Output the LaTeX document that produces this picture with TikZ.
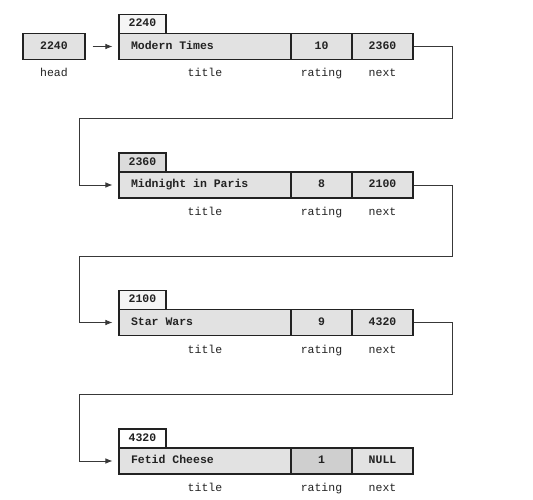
\documentclass[tikz,border=0pt]{standalone}
\usepackage{fontspec}
\setmonofont{Liberation Mono}
\usetikzlibrary{arrows.meta}
\definecolor{ink}{HTML}{222222}
\definecolor{cellfill}{HTML}{E2E2E2}
\newcommand{\titletext}[1]{\makebox[148pt][l]{#1}}
\tikzset{
  box/.style={draw=ink, line width=1.1pt, fill=cellfill, minimum height=26pt,
              inner sep=0pt, text height=8pt, text depth=2.5pt, text=ink,
              font=\ttfamily\bfseries\fontsize{11.5}{13}\selectfont},
  titlecell/.style={box, minimum width=172pt},
  numcell/.style={box, minimum width=61pt},
  tabcell/.style={box, minimum width=47pt, minimum height=19pt},
  fieldlabel/.style={text=ink, font=\ttfamily\fontsize{11.5}{13}\selectfont, inner sep=0pt, anchor=base},
  link/.style={draw=ink!90, line width=0.7pt, -{Latex[length=7pt,width=5.5pt]}},
}
\begin{document}
\begin{tikzpicture}[x=1pt,y=-1pt]
\useasboundingbox (0,0) rectangle (533,500);

% head
\node[numcell, minimum width=62pt] (hd) at (54,46.5) {2240};
\node[fieldlabel] (lhd) at (54,77) {head};

% row 1
\node[titlecell] (t1) at (205,46.5) {\titletext{Modern Times}};
\node[numcell] (r1) at (321.5,46.5) {10};
\node[numcell] (n1) at (382.5,46.5) {2360};
\node[tabcell, fill=gray!8] (a1) at (142.5,24) {2240};
\node[fieldlabel] (lt1) at (205,77) {title};
\node[fieldlabel] (lr1) at (321.5,77) {rating};
\node[fieldlabel] (ln1) at (382.5,77) {next};

% row 2
\node[titlecell] (t2) at (205,185) {\titletext{Midnight in Paris}};
\node[numcell] (r2) at (321.5,185) {8};
\node[numcell] (n2) at (382.5,185) {2100};
\node[tabcell, fill=gray!28] (a2) at (142.5,162.5) {2360};
\node[fieldlabel] (lt2) at (205,215.5) {title};
\node[fieldlabel] (lr2) at (321.5,215.5) {rating};
\node[fieldlabel] (ln2) at (382.5,215.5) {next};

% row 3
\node[titlecell] (t3) at (205,322.5) {\titletext{Star Wars}};
\node[numcell] (r3) at (321.5,322.5) {9};
\node[numcell] (n3) at (382.5,322.5) {4320};
\node[tabcell, fill=gray!8] (a3) at (142.5,300) {2100};
\node[fieldlabel] (lt3) at (205,353) {title};
\node[fieldlabel] (lr3) at (321.5,353) {rating};
\node[fieldlabel] (ln3) at (382.5,353) {next};

% row 4
\node[titlecell] (t4) at (205,461) {\titletext{Fetid Cheese}};
\node[numcell, fill=gray!38] (r4) at (321.5,461) {1};
\node[numcell] (n4) at (382.5,461) {NULL};
\node[tabcell, fill=white] (a4) at (142.5,438.5) {4320};
\node[fieldlabel] (lt4) at (205,491) {title};
\node[fieldlabel] (lr4) at (321.5,491) {rating};
\node[fieldlabel] (ln4) at (382.5,491) {next};

% turning points
\coordinate (c1r) at (452,118);
\coordinate (c1l) at (79,118);
\coordinate (c2r) at (452,256);
\coordinate (c2l) at (79,256);
\coordinate (c3r) at (452,394);
\coordinate (c3l) at (79,394);

% connectors
\draw[link] ([xshift=7pt]hd.east) -- ([xshift=-6pt]t1.west);
\draw[link] (n1.east) -| (c1r) -- (c1l) |- ([xshift=-6pt]t2.west);
\draw[link] (n2.east) -| (c2r) -- (c2l) |- ([xshift=-6pt]t3.west);
\draw[link] (n3.east) -| (c3r) -- (c3l) |- ([xshift=-6pt]t4.west);
\end{tikzpicture}
\end{document}
